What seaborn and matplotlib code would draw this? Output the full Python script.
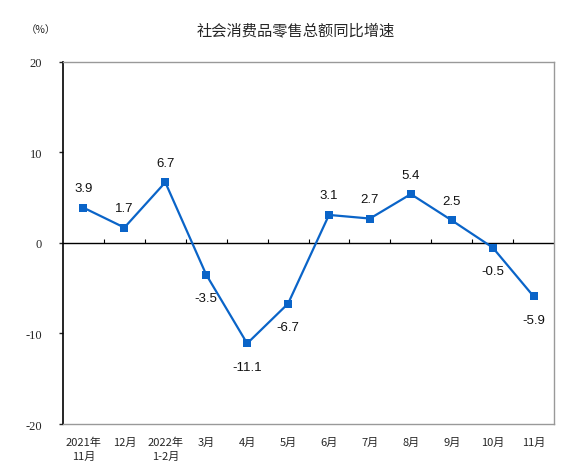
import numpy as np
import pandas as pd
import matplotlib
matplotlib.use("Agg")
import matplotlib.pyplot as plt
import seaborn as sns

months = ["2021年\n11月", "12月", "2022年\n1-2月", "3月", "4月", "5月",
          "6月", "7月", "8月", "9月", "10月", "11月"]
growth = [3.9, 1.7, 6.7, -3.5, -11.1, -6.7, 3.1, 2.7, 5.4, 2.5, -0.5, -5.9]
yticks = [-20, -10, 0, 10, 20]

sns.set_theme(style="white")
plt.rcParams['font.family'] = ['Noto Sans CJK SC', 'DejaVu Sans']

df = pd.DataFrame({"month": months, "growth": growth, "pos": range(len(months))})

fig = plt.figure(figsize=(5.86, 4.77), dpi=100)
ax = fig.add_axes([0.1075, 0.109, 0.838, 0.759])

line_color = "#0a64c8"
sns.lineplot(data=df, x="pos", y="growth", ax=ax, color=line_color, lw=1.6,
             marker="s", markersize=6, markeredgewidth=0, markerfacecolor=line_color)

# zero line with small ticks between categories
ax.axhline(0, color="black", lw=1, zorder=1)
ax.vlines(np.arange(len(months) - 1) + 0.5, 0, 0.45, color="black", lw=0.8)

for i, v in enumerate(growth):
    dy = 14 if v >= 0 else -17
    ax.annotate(f"{v:.1f}", (i, v), xytext=(0, dy), textcoords="offset points",
                ha="center", va="center", fontsize=9.5, family="Liberation Sans",
                color="#111111")

ax.set_xlim(-0.5, len(months) - 0.5)
ax.set_ylim(-20, 20)
ax.set_yticks(yticks)
ax.set_yticklabels([str(t) for t in yticks], family="Liberation Serif", fontsize=9)
ax.set_xticks(range(len(months)))
ax.set_xticklabels(months, fontsize=8, linespacing=1.55)
ax.tick_params(axis="x", length=0, pad=9)
ax.tick_params(axis="y", length=3, width=1, direction="out", left=True, pad=12)
ax.set_xlabel("")
ax.set_ylabel("")
ax.grid(False)

ax.spines["left"].set_color("black")
ax.spines["left"].set_linewidth(1.2)
for s in ["top", "right", "bottom"]:
    ax.spines[s].set_color("#999999")
    ax.spines[s].set_linewidth(1)

fig.text(0.505, 0.935, "社会消费品零售总额同比增速", ha="center", va="center", fontsize=11)
fig.text(0.069, 0.937, "（%）", ha="center", va="center", fontsize=7.5)

fig.savefig("out.png", dpi=100, facecolor="white")
